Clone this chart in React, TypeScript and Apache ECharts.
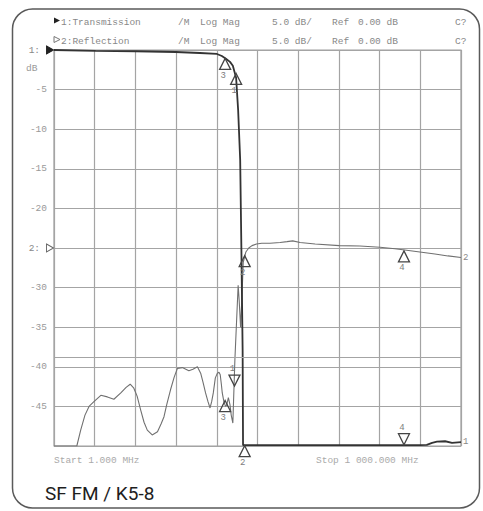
import React, { useEffect, useRef } from "react";
import * as echarts from "echarts";

// Frequency sweep (MHz) and levels (dB)
const START_MHZ = 1;
const STOP_MHZ = 1000;

const transFreq = [1, 103, 202, 300, 359, 401, 413, 423, 433, 440, 448, 453, 458, 461, 464, 465, 482, 600, 750, 900, 916, 929, 941, 961, 978, 1000];
const transDb = [0, -0.1, -0.16, -0.25, -0.38, -0.5, -0.76, -1.1, -1.5, -2.0, -3.5, -7.6, -13.9, -25.3, -37.9, -49.9, -49.9, -49.9, -49.9, -49.9, -49.85, -49.6, -49.46, -49.4, -49.6, -49.5];

const reflFreq = [1, 57, 66.5, 77, 87, 99, 116, 132, 148, 165, 178, 188, 197, 205, 214, 222, 230, 242, 255, 264, 271, 278, 287, 296, 304, 316, 332, 342, 353, 361, 367, 373, 379, 384, 388, 392, 397, 402, 406, 409, 412, 414, 418, 422, 425, 429, 433, 436, 440, 445, 453, 455.5, 459, 463, 465.5, 472, 479, 487, 498, 511, 531, 556, 573, 587, 605, 642, 701, 752, 801, 838, 862, 899, 936, 968, 1000];
const reflDb = [-50, -50, -48, -46.1, -45, -44.4, -43.6, -43.8, -44.1, -43.3, -42.6, -42.2, -42.7, -43.7, -45.5, -47, -48, -48.6, -48.2, -47.2, -46.3, -44.7, -42.9, -41.3, -40.2, -40.1, -40.5, -40.3, -40, -40.8, -42, -43.3, -44.4, -45.2, -44.4, -43.3, -41.4, -40.8, -40.7, -41, -42.3, -43.3, -44.4, -45, -44.8, -43.9, -44.8, -46.1, -47.1, -39.1, -29.7, -31.6, -35, -30.3, -26.8, -25.5, -25, -24.7, -24.5, -24.4, -24.4, -24.3, -24.2, -24.1, -24.3, -24.5, -24.7, -24.75, -24.9, -25.1, -25.25, -25.5, -25.75, -26, -26.2];

// Markers: [label, freq MHz, dB, direction]
const transMarkers: [string, number, number, "up" | "down"][] = [
  ["3", 421, -1.0, "up"],
  ["1", 448, -2.9, "up"],
  ["2", 469, -49.9, "up"],
  ["4", 860, -49.9, "down"],
];
const reflMarkers: [string, number, number, "up" | "down"][] = [
  ["3", 421, -44.2, "up"],
  ["1", 444, -42.5, "down"],
  ["2", 469, -25.9, "up"],
  ["4", 860, -25.3, "up"],
];

const REF_LEVEL_1 = 0;
const REF_LEVEL_2 = -25;
const LIMIT_DB = -38.8;
const Y_MIN = -50;
const Y_MAX = 0;
const Y_STEP = 5;
const X_DIVS = 10;

const MONO = "'Liberation Mono', 'DejaVu Sans Mono', monospace";
const UP = "path://M5,0L10,10L0,10Z";
const DOWN = "path://M0,0L10,0L5,10Z";
const RIGHT = "path://M0,0L10,5L0,10Z";

const toX = (f: number) => f - START_MHZ;

function markerData(list: [string, number, number, "up" | "down"][]) {
  return list.map(([name, f, v, dir]) => ({
    name,
    coord: [toX(f), v],
    symbol: dir === "up" ? UP : DOWN,
    symbolSize: [11, 11],
    symbolOffset: [0, dir === "up" ? 6 : -6],
    itemStyle: { color: "rgba(255,255,255,0)", borderColor: "#444", borderWidth: 1.3 },
    label: {
      show: true,
      formatter: name,
      position: dir === "up" ? "bottom" : "top",
      distance: 1,
      offset: [-2, 0],
      color: "#808080",
      textBorderWidth: 0,
      textShadowBlur: 0,
      fontSize: 9,
      fontFamily: MONO,
    },
  }));
}

function refMarker(label: string, v: number, filled: boolean) {
  return {
    name: "ref" + label,
    coord: [0, v],
    symbol: RIGHT,
    symbolSize: [7, 8],
    symbolOffset: [-4, 0],
    itemStyle: filled
      ? { color: "#222", borderColor: "#222", borderWidth: 1 }
      : { color: "rgba(255,255,255,0)", borderColor: "#666", borderWidth: 1 },
    label: {
      show: true,
      formatter: label + ":",
      position: "left",
      distance: 6,
      color: "#888",
      textBorderWidth: 0,
      fontSize: 9.5,
      fontFamily: MONO,
    },
  };
}

const headerCols: [string, number][] = [
  ["/M", 178],
  ["Log Mag", 200],
  ["5.0 dB/", 272],
  ["Ref", 332],
  ["0.00 dB", 358],
  ["C?", 455],
];
const traceNames = ["1:Transmission", "2:Reflection"];

export default function App() {
  const ref = useRef<HTMLDivElement>(null);
  useEffect(() => {
    if (!ref.current) return;
    const chart = echarts.init(ref.current, undefined, { renderer: "svg" });
    const headerRows = [22.5, 41.5];
    const graphics: any[] = [
      {
        type: "rect",
        shape: { x: 12.5, y: 9, width: 467, height: 499, r: 20 },
        style: { fill: "none", stroke: "#5a5a5a", lineWidth: 1.5 },
        z: 0,
      },
      {
        type: "polygon",
        shape: { points: [[54, 17.5], [60, 20.5], [54, 23.5]] },
        style: { fill: "#222" },
      },
      {
        type: "polygon",
        shape: { points: [[54, 36.5], [60, 39.5], [54, 42.5]] },
        style: { fill: "none", stroke: "#777", lineWidth: 1 },
      },
      {
        type: "text",
        x: 26,
        y: 68,
        style: { text: "dB", fill: "#999", font: `9.5px ${MONO}`, verticalAlign: "middle" },
      },
      {
        type: "text",
        x: 54,
        y: 460,
        style: { text: `Start ${START_MHZ.toFixed(3)} MHz`, fill: "#aaa", font: `9.5px ${MONO}`, verticalAlign: "middle" },
      },
      {
        type: "text",
        x: 316,
        y: 460,
        style: { text: "Stop 1 000.000 MHz", fill: "#aaa", font: `9.5px ${MONO}`, verticalAlign: "middle" },
      },
      {
        type: "text",
        x: 45,
        y: 493,
        style: { text: "SF FM / K5-8", fill: "#1e1e1e", font: "19px Roboto", verticalAlign: "middle" },
      },
    ];
    headerRows.forEach((y, i) => {
      graphics.push({
        type: "text",
        x: 61,
        y,
        style: { text: traceNames[i], fill: "#888", font: `9.5px ${MONO}`, verticalAlign: "middle" },
      });
      headerCols.forEach(([t, x]) => {
        graphics.push({
          type: "text",
          x,
          y,
          style: { text: t, fill: "#888", font: `9.5px ${MONO}`, verticalAlign: "middle" },
        });
      });
    });

    chart.setOption({
      animation: false,
      backgroundColor: "#fff",
      grid: {
        left: 54,
        right: 483 - 461,
        top: 50,
        bottom: 511 - 446,
        show: true,
        borderColor: "#a0a0a0",
        borderWidth: 1.2,
      },
      xAxis: {
        type: "value",
        min: 0,
        max: toX(STOP_MHZ),
        interval: (STOP_MHZ - START_MHZ) / X_DIVS,
        axisLabel: { show: false },
        axisTick: { show: false },
        axisLine: { show: false },
        splitLine: { show: true, lineStyle: { color: "#a4a4a4", width: 1.2 } },
      },
      yAxis: {
        type: "value",
        min: Y_MIN,
        max: Y_MAX,
        interval: Y_STEP,
        axisTick: { show: false },
        axisLine: { show: false },
        splitLine: { show: true, lineStyle: { color: "#a4a4a4", width: 1.2 } },
        axisLabel: {
          margin: 7,
          color: "#999",
          fontSize: 9.5,
          fontFamily: MONO,
          padding: [4, 0, 0, 0],
          formatter: (v: number) =>
            v === REF_LEVEL_1 || v === REF_LEVEL_2 || v === Y_MIN ? "" : String(v),
        },
      },
      graphic: graphics,
      series: [
        {
          name: "Reflection",
          type: "line",
          data: reflFreq.map((f, i) => [toX(f), reflDb[i]]),
          symbol: "none",
          lineStyle: { color: "#707070", width: 1.1 },
          z: 2,
          endLabel: { show: true, formatter: "2", color: "#888", fontSize: 9, fontFamily: MONO, distance: 2 },
          markLine: {
            silent: true,
            symbol: "none",
            label: { show: false },
            lineStyle: { color: "#a4a4a4", width: 1.2, type: "solid" },
            data: [{ yAxis: LIMIT_DB }],
          },
          markPoint: { data: [...markerData(reflMarkers), refMarker("2", REF_LEVEL_2, false)] },
        },
        {
          name: "Transmission",
          type: "line",
          data: transFreq.map((f, i) => [toX(f), transDb[i]]),
          symbol: "none",
          lineStyle: { color: "#333", width: 1.8 },
          z: 3,
          endLabel: { show: true, formatter: "1", color: "#888", fontSize: 9, fontFamily: MONO, distance: 2 },
          markPoint: { data: [...markerData(transMarkers), refMarker("1", REF_LEVEL_1, true)] },
        },
      ],
    });
    return () => chart.dispose();
  }, []);
  return (
    <div
      ref={ref}
      style={{ position: "fixed", left: 0, top: 0, width: 483, height: 511 }}
    />
  );
}
